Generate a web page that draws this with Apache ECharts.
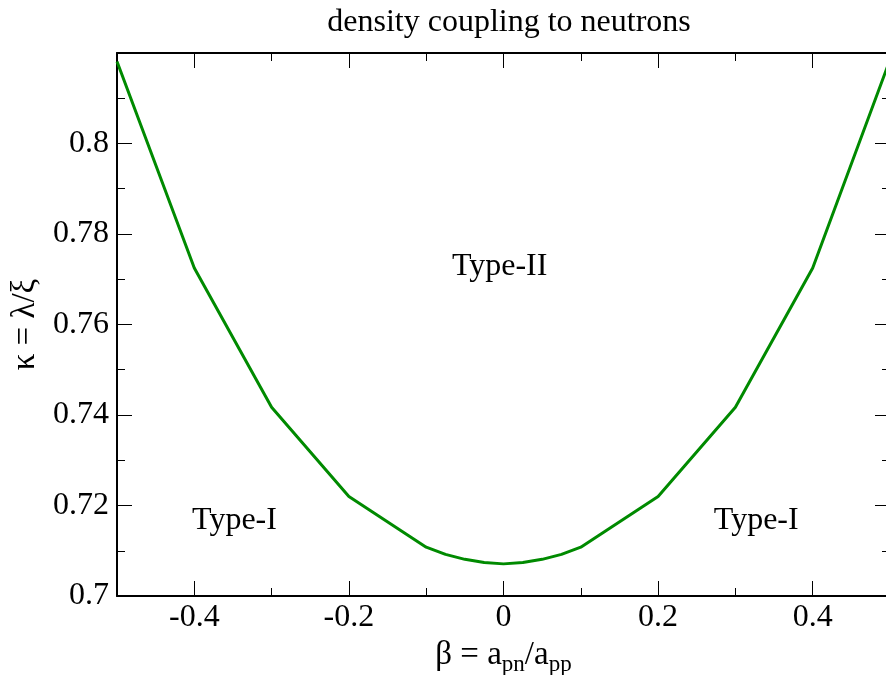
<!DOCTYPE html>
<html>
<head>
<meta charset="utf-8">
<script src="https://cdn.jsdelivr.net/npm/echarts@6/dist/echarts.min.js"></script>
<style>
  html, body { margin: 0; padding: 0; background: #fff; }
  #chart { width: 886px; height: 675px; }
</style>
</head>
<body>
<div id="chart"></div>
<script>
// beta = a_pn / a_pp
const beta = [-0.5, -0.4, -0.3, -0.2, -0.1, -0.075, -0.05, -0.025, 0, 0.025, 0.05, 0.075, 0.1, 0.2, 0.3, 0.4, 0.5];
// kappa = lambda / xi at the phase boundary
const kappa = [0.8181, 0.7725, 0.7417, 0.722, 0.7108, 0.7092, 0.7081, 0.7074, 0.7071, 0.7074, 0.7081, 0.7092, 0.7108, 0.722, 0.7417, 0.7725, 0.8185];
// tick positions on the beta axis
const betaMajor = [-0.4, -0.2, 0, 0.2, 0.4];
const betaMinor = [-0.3, -0.1, 0.1, 0.3];
// region labels [beta, kappa, text]
const regions = [
  [-0.005, 0.7729, 'Type-II'],
  [-0.348, 0.7167, 'Type-I'],
  [0.327, 0.7167, 'Type-I']
];

const serif = 'Liberation Serif, Times New Roman, serif';
const black = '#000';

const chart = echarts.init(document.getElementById('chart'));

// plot frame goes a few pixels past the right edge of the picture
const gridBox = { left: 117, top: 53, width: 773, height: 543, containLabel: false, outerBoundsMode: 'none' };

function xAxisOf(gridIndex, position, ticks, len, showLine) {
  return {
    type: 'value', gridIndex, position, min: -0.5, max: 0.5,
    axisTick: { inside: true, length: len, customValues: ticks, lineStyle: { color: black, width: 1 } },
    axisLine: { show: showLine, onZero: false, lineStyle: { color: black, width: 2 } },
    axisLabel: { show: false },
    splitLine: { show: false }
  };
}

const bottomX = xAxisOf(0, 'bottom', betaMajor, 15, true);
bottomX.axisLabel = {
  show: true, customValues: betaMajor, margin: 6,
  fontFamily: serif, fontSize: 32, color: black,
  formatter: v => (Math.abs(v) < 1e-9 ? '0' : String(Math.round(v * 10) / 10))
};
bottomX.name = '{a|β = a}{s|pn}{a|/a}{s|pp}';
bottomX.nameLocation = 'middle';
bottomX.nameGap = 24;
bottomX.nameTextStyle = {
  color: black,
  rich: {
    a: { fontFamily: serif, fontSize: 33, color: black },
    s: { fontFamily: serif, fontSize: 23, color: black, padding: [20, 0, 0, 0] }
  }
};

const baseY = {
  type: 'value', min: 0.7, max: 0.82, interval: 0.02,
  minorTick: { show: true, splitNumber: 2, length: 8, lineStyle: { color: black, width: 1 } },
  axisTick: { inside: true, length: 15, lineStyle: { color: black, width: 1 } },
  axisLine: { show: true, onZero: false, lineStyle: { color: black, width: 2 } },
  splitLine: { show: false }
};

const option = {
  animation: false,
  title: {
    text: 'density coupling to neutrons',
    left: 504, top: 2, textAlign: 'center',
    textStyle: { fontFamily: serif, fontSize: 32, fontWeight: 'normal', color: black }
  },
  grid: [Object.assign({}, gridBox), Object.assign({}, gridBox)],
  xAxis: [
    bottomX,
    xAxisOf(0, 'top', betaMajor, 15, true),
    xAxisOf(1, 'bottom', betaMinor, 8, false),
    xAxisOf(1, 'top', betaMinor, 8, false)
  ],
  yAxis: [
    Object.assign({}, baseY, {
      gridIndex: 0, position: 'left',
      axisLabel: {
        margin: 8, fontFamily: serif, fontSize: 32, color: black,
        formatter: v => String(Math.round(v * 100) / 100),
        showMaxLabel: false
      },
      name: 'κ = λ/ξ',
      nameLocation: 'middle', nameGap: 72,
      nameTextStyle: { fontFamily: serif, fontSize: 33, color: black }
    }),
    Object.assign({}, baseY, { gridIndex: 0, position: 'right', axisLabel: { show: false } }),
    { type: 'value', gridIndex: 1, min: 0.7, max: 0.82, show: false }
  ],
  series: [
    {
      type: 'line',
      xAxisIndex: 0, yAxisIndex: 0,
      data: beta.map((b, i) => [b, kappa[i]]),
      symbol: 'none',
      lineStyle: { color: '#008a00', width: 3 },
      clip: true
    },
    {
      type: 'scatter',
      xAxisIndex: 0, yAxisIndex: 0,
      data: regions.map(r => ({ value: [r[0], r[1]], name: r[2] })),
      symbolSize: 0,
      itemStyle: { opacity: 1 },
      label: {
        show: true, position: 'inside', formatter: p => p.name,
        fontFamily: serif, fontSize: 32, color: black, opacity: 1, textBorderWidth: 0
      },
      silent: true
    }
  ]
};

chart.setOption(option);
</script>
</body>
</html>
